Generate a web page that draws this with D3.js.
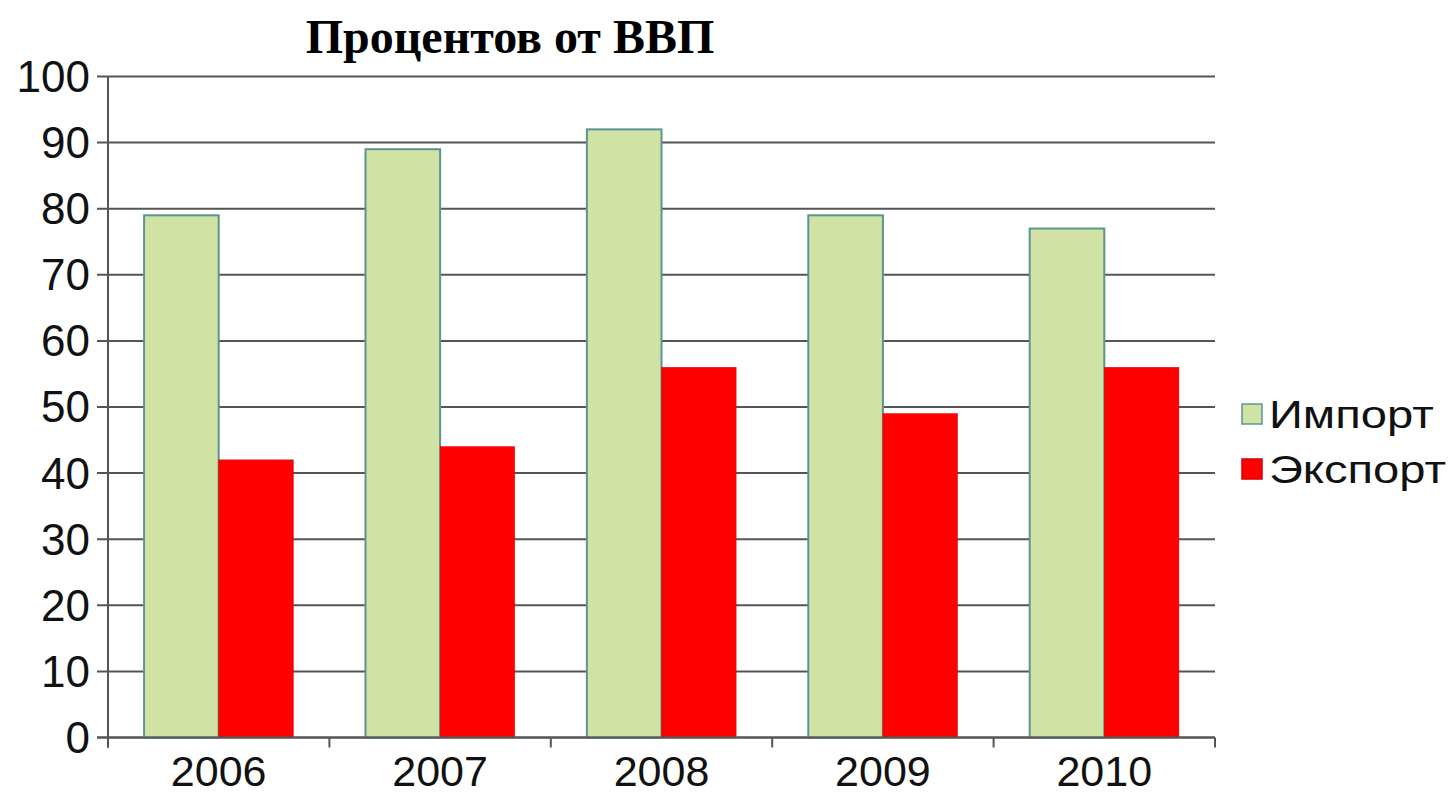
<!DOCTYPE html>
<html>
<head>
<meta charset="utf-8">
<title>Процентов от ВВП</title>
<script src="https://d3js.org/d3.v7.min.js"></script>
<style>
  body { margin: 0; background: #fff; }
</style>
</head>
<body>
<div id="chart"></div>
<script>
// данные графика
const years = ["2006", "2007", "2008", "2009", "2010"]
const importVals = [79, 89, 92, 79, 77]
const exportVals = [42, 44, 56, 49, 56]
const seriesNames = ["Импорт", "Экспорт"]
const yTicks = [0, 10, 20, 30, 40, 50, 60, 70, 80, 90, 100]

const width = 1452, height = 800
const plotLeft = 108, plotRight = 1215, plotTop = 76.5, plotBottom = 737.5

const svg = d3.select("#chart").append("svg")
    .attr("width", width).attr("height", height)

const x = d3.scaleBand().domain(years).range([plotLeft, plotRight])
    .paddingInner(0.326).paddingOuter(0.163)
const xs = d3.scaleBand().domain(seriesNames).range([0, x.bandwidth()])
const y = d3.scaleLinear().domain([0, 100]).range([plotBottom, plotTop])

// сетка
svg.append("g")
    .selectAll("line")
    .data(yTicks)
    .join("line")
    .attr("x1", plotLeft - 11).attr("x2", plotRight)
    .attr("y1", d => y(d)).attr("y2", d => y(d))
    .attr("stroke", "#555").attr("stroke-width", 2)

// подписи оси Y
svg.append("g")
    .selectAll("text")
    .data(yTicks)
    .join("text")
    .attr("x", 90).attr("y", d => y(d))
    .attr("dy", "0.35em")
    .attr("text-anchor", "end")
    .style("font-family", "Liberation Sans, Arial, sans-serif")
    .style("font-size", "44px")
    .attr("fill", "#111")
    .text(d => d)

// столбцы
const colors = { "Импорт": "#d1e2a5", "Экспорт": "#ff0000" }
const strokes = { "Импорт": "#5b9592", "Экспорт": "#d80000" }
const rows = years.map((yr, i) => ({ year: yr, values: [importVals[i], exportVals[i]] }))

svg.append("g")
    .selectAll("g")
    .data(rows)
    .join("g")
    .attr("transform", d => `translate(${x(d.year)},0)`)
    .selectAll("rect")
    .data(d => d.values.map((v, j) => ({ name: seriesNames[j], value: v })))
    .join("rect")
    .attr("x", d => xs(d.name))
    .attr("y", d => y(d.value))
    .attr("width", xs.bandwidth())
    .attr("height", d => plotBottom - y(d.value))
    .attr("fill", d => colors[d.name])
    .attr("stroke", d => strokes[d.name])
    .attr("stroke-width", d => d.name === "Импорт" ? 2 : 0.5)

// оси
svg.append("line")
    .attr("x1", plotLeft).attr("x2", plotLeft)
    .attr("y1", plotTop).attr("y2", plotBottom + 10)
    .attr("stroke", "#555").attr("stroke-width", 2)
svg.append("line")
    .attr("x1", plotLeft - 11).attr("x2", plotRight)
    .attr("y1", plotBottom).attr("y2", plotBottom)
    .attr("stroke", "#555").attr("stroke-width", 2)

const tickX = years.map(d => x(d) - x.step() * x.paddingInner() / 2).concat([plotRight])
svg.append("g")
    .selectAll("line")
    .data(tickX)
    .join("line")
    .attr("x1", d => d).attr("x2", d => d)
    .attr("y1", plotBottom).attr("y2", plotBottom + 10)
    .attr("stroke", "#555").attr("stroke-width", 2)

// подписи оси X
svg.append("g")
    .selectAll("text")
    .data(years)
    .join("text")
    .attr("x", d => x(d) + x.bandwidth() / 2)
    .attr("y", 786)
    .attr("text-anchor", "middle")
    .style("font-family", "Liberation Sans, Arial, sans-serif")
    .style("font-size", "43px")
    .attr("fill", "#111")
    .text(d => d)

// заголовок
svg.append("text")
    .attr("x", 510).attr("y", 53)
    .attr("text-anchor", "middle")
    .style("font-family", "Liberation Serif, Times New Roman, serif")
    .style("font-weight", "bold")
    .style("font-size", "48px")
    .text("Процентов от ВВП")

// легенда
const legend = svg.append("g")
    .selectAll("g")
    .data(seriesNames)
    .join("g")
    .attr("transform", (d, i) => `translate(1242,${404 + i * 55})`)
legend.append("rect")
    .attr("width", 20).attr("height", 20)
    .attr("fill", d => colors[d])
    .attr("stroke", d => strokes[d])
    .attr("stroke-width", 1.5)
legend.append("text")
    .attr("transform", "translate(27,24) scale(1.24,1)")
    .style("font-family", "Liberation Sans, Arial, sans-serif")
    .style("font-size", "38px")
    .attr("fill", "#111")
    .text(d => d)
</script>
</body>
</html>
